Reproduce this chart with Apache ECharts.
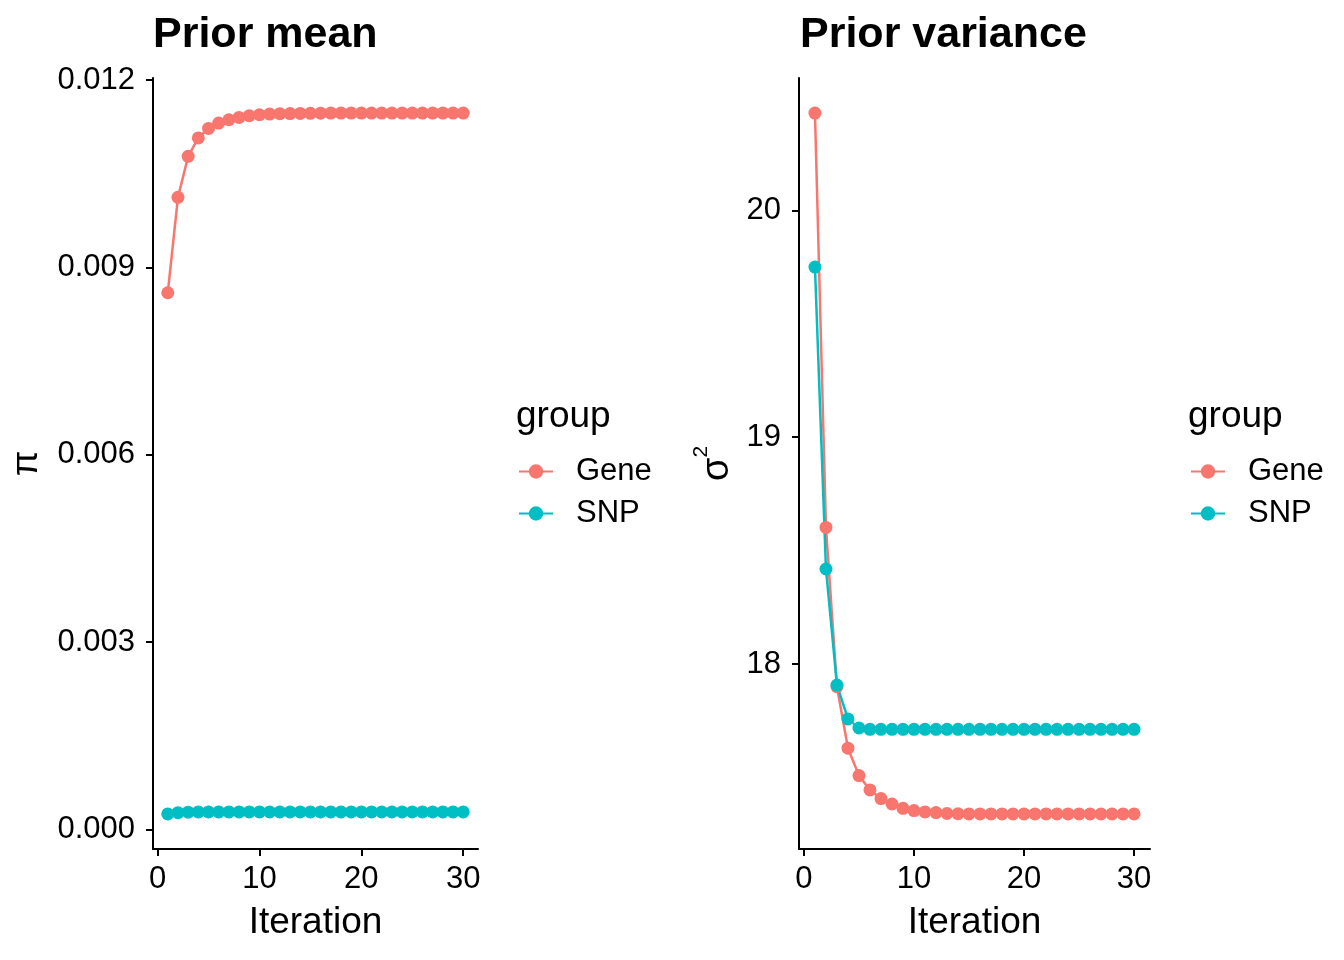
<!DOCTYPE html>
<html>
<head>
<meta charset="utf-8">
<script src="https://cdn.jsdelivr.net/npm/echarts@6/dist/echarts.min.js"></script>
<style>
html,body{margin:0;padding:0;background:#fff;}
#chart{width:1344px;height:960px;}
</style>
</head>
<body>
<div id="chart"></div>
<script>
// ---- data ----
const iterations = Array.from({length: 30}, (_, i) => i + 1);
const meanGene = [0.008595, 0.010123, 0.010779, 0.011073, 0.011226, 0.011312, 0.011365, 0.011402, 0.011429, 0.011445,
  0.011456, 0.011462, 0.011464, 0.011466, 0.011468, 0.011470, 0.011471, 0.011472, 0.011472, 0.011472,
  0.011472, 0.011472, 0.011472, 0.011472, 0.011472, 0.011472, 0.011472, 0.011472, 0.011472, 0.011472];
const meanSNP = [0.000251, 0.000272, 0.000280, 0.000283, 0.000283, 0.000283, 0.000283, 0.000283, 0.000283, 0.000283,
  0.000283, 0.000283, 0.000283, 0.000283, 0.000283, 0.000283, 0.000283, 0.000283, 0.000283, 0.000283,
  0.000283, 0.000283, 0.000283, 0.000283, 0.000283, 0.000283, 0.000283, 0.000283, 0.000283, 0.000283];
const varGene = [20.429, 18.602, 17.900, 17.629, 17.508, 17.445, 17.407, 17.383, 17.364, 17.354,
  17.348, 17.345, 17.341, 17.340, 17.339, 17.339, 17.339, 17.339, 17.339, 17.339,
  17.339, 17.339, 17.339, 17.339, 17.339, 17.339, 17.339, 17.339, 17.339, 17.339];
const varSNP = [19.750, 18.419, 17.907, 17.758, 17.718, 17.712, 17.712, 17.712, 17.712, 17.712,
  17.712, 17.712, 17.712, 17.712, 17.712, 17.712, 17.712, 17.712, 17.712, 17.712,
  17.712, 17.712, 17.712, 17.712, 17.712, 17.712, 17.712, 17.712, 17.712, 17.712];
const xTicks = [0, 10, 20, 30];
const meanTicks = [0, 0.003, 0.006, 0.009, 0.012];
const varTicks = [18, 19, 20];
const groups = ['Gene', 'SNP'];
const colors = ['#F8766D', '#00BFC4'];

// ---- helpers ----
function expandRange(arrs, mult) {
  let lo = Infinity, hi = -Infinity;
  arrs.forEach(a => a.forEach(v => { lo = Math.min(lo, v); hi = Math.max(hi, v); }));
  const d = (hi - lo) * mult;
  return [lo - d, hi + d];
}
const xr = expandRange([iterations], 0.05);
const meanR = expandRange([meanGene, meanSNP], 0.05);
const varR = expandRange([varGene, varSNP], 0.05);

const FONT = '"Liberation Sans", Arial, Helvetica, sans-serif';
const axisCommon = {
  axisLine: {show: true, onZero: false, lineStyle: {color: '#000', width: 2}},
  axisTick: {show: true, length: 7, inside: false, lineStyle: {color: '#000', width: 2}},
  splitLine: {show: false},
  nameTextStyle: {fontFamily: FONT, fontSize: 37, color: '#000'}
};
function xAxis(gi) {
  return Object.assign({}, axisCommon, {
    type: 'value', gridIndex: gi, min: xr[0], max: xr[1],
    name: 'Iteration', nameLocation: 'middle', nameGap: 55,
    axisTick: Object.assign({}, axisCommon.axisTick, {customValues: xTicks}),
    axisLabel: {customValues: xTicks, fontFamily: FONT, fontSize: 31, color: '#000', margin: 15}
  });
}
function yAxis(gi, r, ticks, fmt, name, gap, rich) {
  return Object.assign({}, axisCommon, {
    type: 'value', gridIndex: gi, min: r[0], max: r[1],
    name: name, nameLocation: 'middle', nameGap: gap,
    nameTextStyle: Object.assign({}, axisCommon.nameTextStyle, rich ? {rich: rich} : {}),
    axisTick: Object.assign({}, axisCommon.axisTick, {customValues: ticks}),
    axisLabel: {customValues: ticks, formatter: fmt, fontFamily: FONT, fontSize: 31, color: '#000', margin: 18}
  });
}
function mkSeries(name, xi, yi, vals, color) {
  return {
    type: 'line', name: name, xAxisIndex: xi, yAxisIndex: yi,
    data: iterations.map((x, i) => [x, vals[i]]),
    symbol: 'circle', symbolSize: 13, showSymbol: true,
    lineStyle: {color: color, width: 2.5}, itemStyle: {color: color},
    emphasis: {disabled: true}, animation: false, z: 2
  };
}
function legend(left) {
  return {
    data: groups, orient: 'vertical', left: left, top: 456, padding: 0,
    itemWidth: 34, itemHeight: 18, itemGap: 11, selectedMode: false,
    textStyle: {fontFamily: FONT, fontSize: 31, color: '#000', lineHeight: 30, padding: [0, 0, 0, 18]}
  };
}

const chart = echarts.init(document.getElementById('chart'), null, {renderer: 'canvas'});
chart.setOption({
  backgroundColor: '#fff',
  animation: false,
  title: [
    {text: 'Prior mean', left: 148, top: 9, textStyle: {fontFamily: FONT, fontSize: 43, fontWeight: 'bold', color: '#000'}},
    {text: 'Prior variance', left: 795, top: 9, textStyle: {fontFamily: FONT, fontSize: 43, fontWeight: 'bold', color: '#000'}},
    {text: 'group', left: 511, top: 393, textStyle: {fontFamily: FONT, fontSize: 37, fontWeight: 'normal', color: '#000'}},
    {text: 'group', left: 1183, top: 393, textStyle: {fontFamily: FONT, fontSize: 37, fontWeight: 'normal', color: '#000'}}
  ],
  legend: [legend(518), legend(1190)],
  grid: [
    {left: 153, top: 78, width: 325, height: 771},
    {left: 799, top: 78, width: 351, height: 771}
  ],
  xAxis: [xAxis(0), xAxis(1)],
  yAxis: [
    yAxis(0, meanR, meanTicks, v => v.toFixed(3), 'π', 108),
    yAxis(1, varR, varTicks, v => String(v), '{s|σ}{sup|2}', 62,
      {s: {fontFamily: FONT, fontSize: 38, color: '#000', lineHeight: 46, verticalAlign: 'bottom'},
       sup: {fontFamily: FONT, fontSize: 21, color: '#000', lineHeight: 20, verticalAlign: 'top'}})
  ],
  series: [
    mkSeries('Gene', 0, 0, meanGene, colors[0]),
    mkSeries('SNP', 0, 0, meanSNP, colors[1]),
    mkSeries('Gene', 1, 1, varGene, colors[0]),
    mkSeries('SNP', 1, 1, varSNP, colors[1])
  ]
});
</script>
</body>
</html>
